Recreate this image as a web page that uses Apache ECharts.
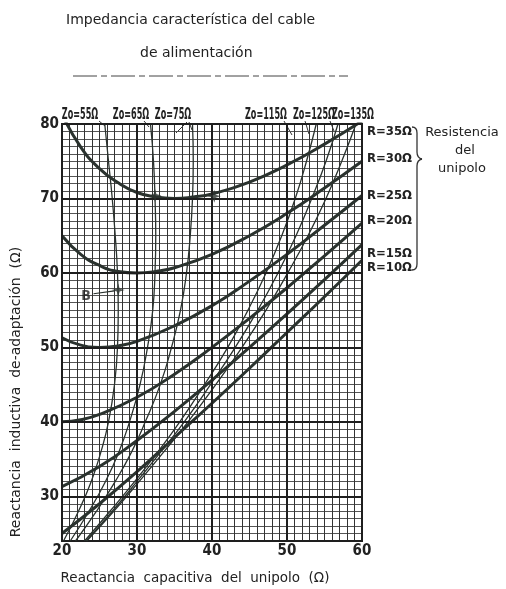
<!DOCTYPE html>
<html><head><meta charset="utf-8">
<script src="https://cdn.jsdelivr.net/npm/echarts@6/dist/echarts.min.js"></script>
<style>html,body{margin:0;padding:0;background:#fff}#c{width:506px;height:589px}</style>
</head><body><div id="c"></div>
<script>
// Axis ticks
const xTicks = [20, 30, 40, 50, 60];
const yTicks = [30, 40, 50, 60, 70, 80];

// Resistance curves (Xc, XL)
const rNames = ['R=10Ω', 'R=15Ω', 'R=20Ω', 'R=25Ω', 'R=30Ω', 'R=35Ω'];
const r10 = [[20,25.0],[25,29.0],[30,33.3],[35,37.9],[40,42.5],[45,47.2],[50,52.0],[55,56.8],[60,61.7]];
const r15 = [[20,31.3],[25,34.0],[30,37.5],[35,41.4],[40,45.6],[45,50.0],[50,54.5],[55,59.1],[60,63.8]];
const r20 = [[20,40.0],[22.5,40.3],[25,41.0],[30,43.3],[35,46.4],[40,50.0],[45,53.9],[50,58.0],[55,62.3],[60,66.7]];
const r25 = [[20,51.3],[22.5,50.3],[25,50.0],[27.5,50.2],[30,50.8],[35,52.9],[40,55.6],[45,58.9],[50,62.5],[55,66.4],[60,70.4]];
const r30 = [[20,65.0],[22.5,62.5],[25,61.0],[27.5,60.2],[30,60.0],[32.5,60.2],[35,60.7],[40,62.5],[45,65.0],[50,68.0],[55,71.4],[60,75.0]];
const r35 = [[20,81.3],[22.5,76.9],[25,74.0],[27.5,72.1],[30,70.8],[32.5,70.2],[35,70.0],[37.5,70.2],[40,70.6],[45,72.2],[50,74.5],[55,77.3],[60,80.4]];

// Cable impedance curves (Xc, XL)
const zoNames = ['Zo=55Ω', 'Zo=65Ω', 'Zo=75Ω', 'Zo=115Ω', 'Zo=125Ω', 'Zo=135Ω'];
const zo55 = [[20.2,24],[22.2,28],[23.9,32],[25.2,36],[26.2,40],[27.0,45],[27.4,50],[27.5,55],[27.4,60],[27.1,65],[26.7,70],[26.2,75],[25.7,80]];
const zo65 = [[21.1,24],[23.6,28],[25.8,32],[27.6,36],[29.0,40],[30.4,45],[31.4,50],[32.1,55],[32.4,60],[32.5,65],[32.4,70],[32.2,75],[31.8,80]];
const zo75 = [[21.8,24],[24.6,28],[27.1,32],[29.3,36],[31.1,40],[33.1,45],[34.6,50],[35.8,55],[36.6,60],[37.1,65],[37.4,70],[37.5,75],[37.4,80]];
const zo115 = [[23.0,24],[26.4,28],[29.7,32],[32.8,36],[35.7,40],[39.0,45],[42.1,50],[44.8,55],[47.2,60],[49.3,65],[51.1,70],[52.6,75],[53.9,80]];
const zo125 = [[23.2,24],[26.7,28],[30.0,32],[33.2,36],[36.3,40],[39.8,45],[43.1,50],[46.1,55],[48.8,60],[51.2,65],[53.3,70],[55.2,75],[56.8,80]];
const zo135 = [[23.3,24],[26.9,28],[30.3,32],[33.6,36],[36.8,40],[40.5,45],[44.0,50],[47.2,55],[50.1,60],[52.8,65],[55.2,70],[57.3,75],[59.2,80]];

// Marked points
const starPts = [[27.5,57.7],[32.4,70.4],[40.3,70.3]];
const bLabelPt = [[23.2,56.9]];
const bArrow = [[24.2,57.2],[27.0,57.6]];

const INK = '#2a322e';
const rSeries = [r10, r15, r20, r25, r30, r35];
const zoSeries = [zo55, zo65, zo75, zo115, zo125, zo135];

const series = [];
series.push({
  type: 'line', data: [], silent: true, z: 1,
  markLine: {
    silent: true, symbol: 'none', label: {show: false}, animation: false,
    lineStyle: {color: '#1e1e1e', width: 2, type: 'solid'},
    data: xTicks.map(v => ({xAxis: v})).concat(yTicks.map(v => ({yAxis: v})))
  }
});
zoSeries.forEach((d, i) => series.push({
  name: zoNames[i], type: 'line', data: d, smooth: true, showSymbol: false, z: 3,
  lineStyle: {color: INK, width: 1.3}
}));
rSeries.forEach((d, i) => series.push({
  name: rNames[i], type: 'line', data: d, smooth: true, showSymbol: false, z: 4,
  lineStyle: {color: INK, width: 3}
}));
series.push({
  type: 'scatter', data: starPts, z: 5,
  symbol: 'path://M0,-10 L2.2,-2.2 L10,0 L2.2,2.2 L0,10 L-2.2,2.2 L-10,0 L-2.2,-2.2Z',
  symbolSize: 13, itemStyle: {color: INK}
});
series.push({
  type: 'line', data: bArrow, showSymbol: false, z: 5,
  lineStyle: {color: INK, width: 1.2}
});
series.push({
  type: 'scatter', data: bLabelPt, symbolSize: 1, z: 6, itemStyle: {color: 'transparent'},
  label: {show: true, formatter: 'B', position: 'inside', color: '#222',
    fontFamily: 'DejaVu Sans Condensed', fontWeight: 'bold', fontSize: 14}
});

const FONT = 'DejaVu Sans';
const COND = 'DejaVu Sans Condensed';
const graphic = [];
function txt(t, x, y, size, opts, extra) {
  graphic.push(Object.assign({
    type: 'text', x: x, y: y,
    style: Object.assign({text: t, fill: '#222', font: size + 'px ' + FONT, textAlign: 'left', textVerticalAlign: 'middle'}, opts || {})
  }, extra || {}));
}
function bez(x1, y1, cx, cy, x2, y2) {
  graphic.push({type: 'bezierCurve', shape: {x1: x1, y1: y1, cpx1: cx, cpy1: cy, x2: x2, y2: y2},
    style: {stroke: '#333', lineWidth: 1.3, fill: null}});
}
function seg(x1, y1, x2, y2, w) {
  graphic.push({type: 'line', shape: {x1: x1, y1: y1, x2: x2, y2: y2}, style: {stroke: '#333', lineWidth: w || 1.3}});
}
txt('Impedancia característica del cable', 66, 20, 14);
txt('de alimentación', 140, 53, 14);
graphic.push({type: 'line', shape: {x1: 73, y1: 76, x2: 348, y2: 76},
  style: {stroke: '#444', lineWidth: 1, lineDash: [24, 4, 6, 4]}});
const zoLabelX = [80, 131, 173, 266, 314, 353];
zoNames.forEach((n, i) => txt(n, zoLabelX[i], 115, 15, {textAlign: 'center', font: 'bold 15px ' + COND}, {scaleX: 0.6}));
// short leader strokes from labels toward curves
seg(99, 121, 105, 126, 1);
seg(144, 121, 149, 127, 1);
seg(176, 133, 187, 122, 1);
seg(189, 122, 192, 130, 1);
seg(284, 121, 292, 135, 1);
seg(305, 121, 309, 134, 1);
seg(330, 121, 334, 131, 1);
const rLabelY = [268, 254, 221, 196, 159, 132];
rNames.forEach((n, i) => txt(n, 367, rLabelY[i], 13, {font: 'bold 13px ' + COND}));
bez(412, 127, 417, 127, 417, 133);
seg(417, 133, 417, 152);
bez(417, 152, 417, 158, 422, 159);
bez(422, 159, 417, 160, 417, 166);
seg(417, 166, 417, 264);
bez(417, 264, 417, 270, 412, 270);
txt('Resistencia', 462, 133, 13, {textAlign: 'center'});
txt('del', 465, 151, 13, {textAlign: 'center'});
txt('unipolo', 462, 169, 13, {textAlign: 'center'});
graphic.push({type: 'text', x: 16, y: 392, rotation: Math.PI / 2,
  style: {text: 'Reactancia  inductiva  de-adaptación  (Ω)', fill: '#222', font: '14px ' + FONT,
    textAlign: 'center', textVerticalAlign: 'middle'}});
txt('Reactancia  capacitiva  del  unipolo  (Ω)', 195, 578, 13.5, {textAlign: 'center'});

const chart = echarts.init(document.getElementById('c'), null, {renderer: 'canvas'});
chart.setOption({
  animation: false,
  backgroundColor: '#fff',
  grid: {left: 62, top: 124, width: 300, height: 417, show: true, borderColor: '#1e1e1e', borderWidth: 2, backgroundColor: 'transparent'},
  xAxis: {
    type: 'value', min: 20, max: 60, interval: 1,
    axisLine: {show: true, lineStyle: {color: '#1e1e1e', width: 2}},
    axisTick: {show: false},
    splitLine: {show: true, lineStyle: {color: '#333', width: 1}},
    axisLabel: {margin: 3, color: '#222', fontFamily: COND, fontWeight: 'bold', fontSize: 15,
      formatter: v => xTicks.indexOf(v) >= 0 ? String(v) : ''}
  },
  yAxis: {
    type: 'value', min: 24, max: 80, interval: 1,
    axisLine: {show: true, lineStyle: {color: '#1e1e1e', width: 2}},
    axisTick: {show: false},
    splitLine: {show: true, lineStyle: {color: '#555', width: 1}},
    axisLabel: {margin: 3, color: '#222', fontFamily: COND, fontWeight: 'bold', fontSize: 15,
      formatter: v => yTicks.indexOf(v) >= 0 ? String(v) : ''}
  },
  graphic: graphic,
  series: series
});
</script>
</body></html>
